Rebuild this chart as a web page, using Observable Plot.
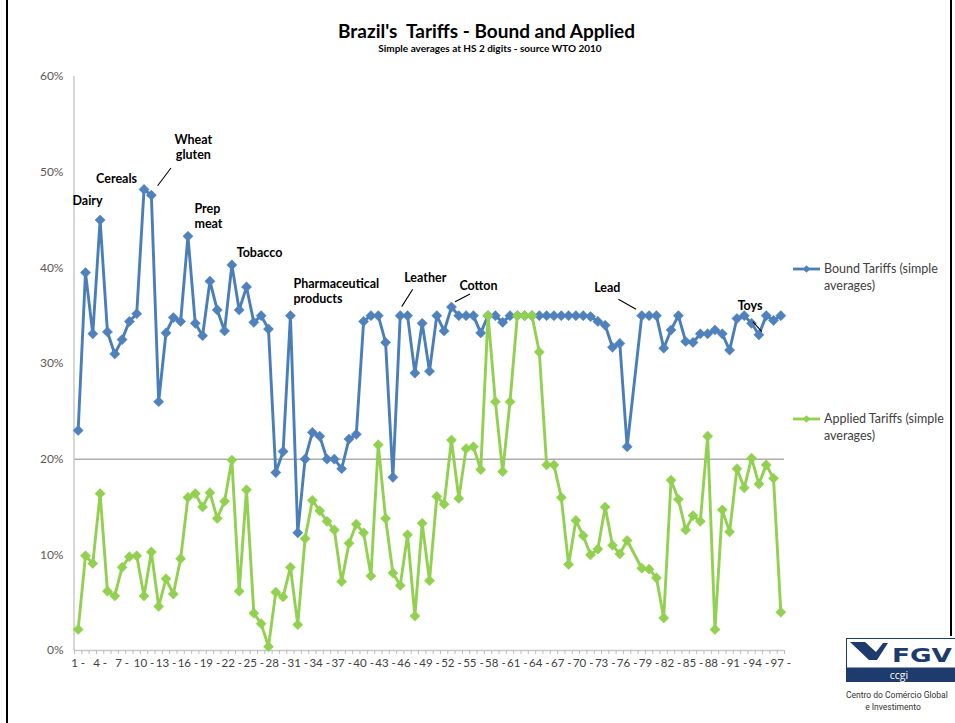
<!DOCTYPE html>
<html>
<head>
<meta charset="utf-8">
<script src="https://cdn.jsdelivr.net/npm/d3@7"></script>
<script src="https://cdn.jsdelivr.net/npm/@observablehq/plot@0.6"></script>
<style>
  body { margin: 0; background: #fff; }
  #page { position: relative; width: 955px; height: 723px; overflow: hidden; background: #fff; font-family: Lato, "Open Sans", sans-serif; }
  #chart { position: absolute; left: 0; top: 0; }
  .title { position: absolute; left: 0; width: 973px; text-align: center; font-weight: bold; color: #000; white-space: nowrap; }
  #title { top: 19px; font-size: 19px; line-height: 23px; }
  #subtitle { top: 42px; font-size: 10px; line-height: 12px; width: 980px; }
  .legend { position: absolute; left: 792px; font-size: 12.5px; line-height: 17px; color: #404040; }
  .legend svg { position: absolute; left: 0; top: 1px; }
  .legend span { position: absolute; left: 32px; top: 0; width: 130px; }
  .border { position: absolute; background: #000; }
  #logo { position: absolute; left: 0; top: 0; }
</style>
</head>
<body>
<div id="page">
  <div class="border" style="left:6px;top:0;width:2px;height:723px"></div>
  <div class="border" style="left:950px;top:0;width:2px;height:636px"></div>
  <div id="chart"></div>
  <div class="title" id="title">Brazil's&nbsp;&nbsp;Tariffs - Bound and Applied</div>
  <div class="title" id="subtitle">Simple averages at HS 2 digits - source WTO 2010</div>
  <div id="legend"></div>
  <svg id="logo" width="955" height="723" style="pointer-events:none"></svg>
</div>
<script>
// HS 2-digit chapters (chapter 77 is reserved and has no tariff lines)
const chapters = d3.range(1, 98);

// Bound tariffs, simple averages (%) per chapter 1..97
const boundTariffs = [
  23.0, 39.5, 33.1, 45.0, 33.3, 31.0, 32.5, 34.4, 35.2, 48.2,
  47.6, 26.0, 33.2, 34.8, 34.4, 43.3, 34.2, 32.9, 38.6, 35.6,
  33.4, 40.3, 35.6, 38.0, 34.3, 35.0, 33.6, 18.6, 20.8, 35.0,
  12.3, 20.0, 22.8, 22.4, 20.0, 20.0, 19.0, 22.1, 22.6, 34.4,
  35.0, 35.0, 32.2, 18.1, 35.0, 35.0, 29.0, 34.2, 29.2, 35.0,
  33.4, 35.9, 35.0, 35.0, 35.0, 33.2, 35.0, 35.0, 34.3, 35.0,
  35.0, 35.0, 35.0, 35.0, 35.0, 35.0, 35.0, 35.0, 35.0, 35.0,
  34.9, 34.4, 34.0, 31.7, 32.1, 21.3, null, 35.0, 35.0, 35.0,
  31.6, 33.5, 35.0, 32.3, 32.2, 33.1, 33.1, 33.5, 33.1, 31.4,
  34.7, 35.0, 34.2, 33.0, 35.0, 34.5, 35.0
];

// Applied tariffs, simple averages (%) per chapter 1..97
const appliedTariffs = [
   2.2,  9.9,  9.1, 16.4,  6.2,  5.7,  8.7,  9.8,  9.9,  5.7,
  10.3,  4.6,  7.5,  5.9,  9.6, 16.0, 16.4, 15.0, 16.5, 13.8,
  15.6, 19.9,  6.2, 16.8,  3.9,  2.8,  0.4,  6.1,  5.6,  8.7,
   2.7, 11.7, 15.7, 14.6, 13.5, 12.6,  7.2, 11.2, 13.2, 12.3,
   7.8, 21.5, 13.8,  8.1,  6.8, 12.1,  3.6, 13.3,  7.3, 16.1,
  15.3, 22.0, 15.9, 21.1, 21.3, 18.9, 35.0, 26.0, 18.7, 26.0,
  35.0, 35.0, 35.0, 31.2, 19.4, 19.4, 16.0,  9.0, 13.6, 12.0,
  10.0, 10.6, 15.0, 11.0, 10.1, 11.5, null,  8.6,  8.5,  7.6,
   3.4, 17.8, 15.8, 12.6, 14.1, 13.5, 22.4,  2.2, 14.7, 12.4,
  19.0, 17.0, 20.1, 17.4, 19.4, 18.0,  4.0
];

const seriesNames = ["Bound Tariffs (simple averages)", "Applied Tariffs (simple averages)"];
const xTickChapters = d3.range(1, 98, 3);
const yTicks = [0, 10, 20, 30, 40, 50, 60];
const referenceLevel = [20];

// Labelled chapters on the bound series
const annotationChapters = [4, 10, 11, 16, 24, 30, 45, 52, 78, 94];
const annotationLabels = ["Dairy", "Cereals", "Wheat\ngluten", "Prep\nmeat", "Tobacco",
  "Pharmaceutical\nproducts", "Leather", "Cotton", "Lead", "Toys"];

const BLUE = "#4A7EBB", BLUE_FILL = "#4F81BD", GREEN = "#92D050";

const bound = chapters.map((c, i) => ({chapter: c, value: boundTariffs[i]})).filter(d => d.value != null);
const applied = chapters.map((c, i) => ({chapter: c, value: appliedTariffs[i]})).filter(d => d.value != null);
const boundAt = new Map(bound.map(d => [d.chapter, d.value]));

// Label placement relative to the labelled point (pixels)
const labelOffsets = {
  4:  {dx: -12.6, dy: -19.5, anchor: "middle"},
  10: {dx: -27.5, dy: -10.9, anchor: "middle"},
  11: {dx: 42,    dy: -48.6, anchor: "middle"},
  16: {dx: 6.5,   dy: -20.8, anchor: "start"},
  24: {dx: 13,    dy: -34.8, anchor: "middle"},
  30: {dx: 3,     dy: -25,   anchor: "start"},
  45: {dx: 25,    dy: -38.5, anchor: "middle"},
  52: {dx: 27,    dy: -22.3, anchor: "middle"},
  78: {dx: -34.5, dy: -28.5, anchor: "middle"},
  94: {dx: -8.8,  dy: -29.3, anchor: "middle"}
};
// Leader lines from the point towards its label: [start dx, start dy, end dx, end dy]
const leaderOffsets = {
  11: [6.8, -8.9, 20.1, -26.6],
  45: [2, -8.5, 13, -25.9],
  52: [4.1, -4.9, 19.1, -12.6],
  78: [-5.2, -5.9, -22.9, -15.9],
  94: [3.4, -2.6, -5.6, -12.6]
};

const W = 955, H = 723, ML = 74, MR = 171, MT = 76, MB = 73;
const step = (W - ML - MR) / chapters.length;

const annotationMarks = annotationChapters.map((c, i) => {
  const o = labelOffsets[c];
  return Plot.text([{chapter: c, value: boundAt.get(c), label: annotationLabels[i]}], {
    x: "chapter", y: "value", text: "label", dx: o.dx, dy: o.dy,
    textAnchor: o.anchor, lineAnchor: "middle", lineHeight: 1.2,
    fontSize: 12.5, fontWeight: "bold", fill: "#000"
  });
});

const leaders = (index, scales) => {
  const g = d3.create("svg:g").attr("stroke", "#000").attr("stroke-width", 1.1);
  for (const [c, [x1, y1, x2, y2]] of Object.entries(leaderOffsets)) {
    const px = scales.x(+c), py = scales.y(boundAt.get(+c));
    g.append("line").attr("x1", px + x1).attr("y1", py + y1).attr("x2", px + x2).attr("y2", py + y2);
  }
  return g.node();
};

const leftAxisLine = (index, scales, values, dims) => {
  return d3.create("svg:line")
    .attr("x1", dims.marginLeft).attr("x2", dims.marginLeft)
    .attr("y1", dims.marginTop).attr("y2", dims.height - dims.marginBottom)
    .attr("stroke", "#c8c8c8").attr("stroke-width", 1.5).node();
};

const chart = Plot.plot({
  width: W, height: H,
  marginLeft: ML, marginRight: MR, marginTop: MT, marginBottom: MB,
  style: {fontFamily: "Lato, 'Open Sans', sans-serif", background: "transparent", overflow: "visible"},
  x: {type: "point", domain: chapters, padding: 0.5, align: 0.5},
  y: {domain: [0, 60]},
  marks: [
    Plot.ruleY(referenceLevel, {stroke: "#858585", strokeWidth: 1}),
    leftAxisLine,
    Plot.ruleY([0], {stroke: "#c8c8c8", strokeWidth: 1.5}),
    // small tick marks between categories
    Plot.axisX({ticks: chapters, tickSize: 4, dx: -step / 2, tickFormat: () => "", stroke: "#bdbdbd", label: null}),
    Plot.axisX({ticks: [chapters[chapters.length - 1]], tickSize: 4, dx: step / 2, tickFormat: () => "", stroke: "#bdbdbd", label: null}),
    Plot.axisX({ticks: xTickChapters, tickSize: 0, tickPadding: 8, tickFormat: d => `${d} -`,
      fill: "#404040", fontSize: 11.5, label: null}),
    Plot.axisY({ticks: yTicks, tickSize: 0, tickPadding: 11, tickFormat: d => `${d}%`,
      fill: "#595959", fontSize: 12, label: null}),
    Plot.line(bound, {x: "chapter", y: "value", stroke: BLUE, strokeWidth: 2.9, strokeLinejoin: "round"}),
    Plot.dot(bound, {x: "chapter", y: "value", symbol: "diamond2", r: 4.6, fill: BLUE_FILL, stroke: BLUE_FILL, strokeWidth: 0.5}),
    Plot.line(applied, {x: "chapter", y: "value", stroke: GREEN, strokeWidth: 2.9, strokeLinejoin: "round"}),
    Plot.dot(applied, {x: "chapter", y: "value", symbol: "diamond2", r: 4.6, fill: GREEN, stroke: GREEN, strokeWidth: 0.5}),
    leaders,
    ...annotationMarks
  ]
});
document.getElementById("chart").appendChild(chart);

// Legend: line-and-marker swatch with series name
const legend = d3.select("#legend");
[[seriesNames[0], BLUE, BLUE_FILL, 259.5], [seriesNames[1], GREEN, GREEN, 409.5]].forEach(([name, stroke, fill, top]) => {
  const item = legend.append("div").attr("class", "legend").style("top", `${top}px`);
  const sw = item.append("svg").attr("width", 30).attr("height", 16);
  sw.append("line").attr("x1", 1).attr("x2", 28).attr("y1", 8).attr("y2", 8).attr("stroke", stroke).attr("stroke-width", 2.8);
  sw.append("path").attr("d", d3.symbol(d3.symbolDiamond2, Math.PI * 3.4 * 3.4)()).attr("transform", "translate(14.5,8)").attr("fill", fill);
  item.append("span").text(name);
});

// FGV / CCGI logo
const logo = d3.select("#logo");
const NAVY = "#1d3b6c";
logo.append("rect").attr("x", 846.5).attr("y", 638.5).attr("width", 115).attr("height", 43).attr("fill", "#fff").attr("stroke", NAVY).attr("stroke-width", 1);
logo.append("polygon").attr("points", "850,642 865,642 876,652 883,643 888,643 877,660 869,660").attr("fill", NAVY);
logo.append("text").attr("x", 892).attr("y", 662).attr("fill", NAVY).attr("font-family", "'DejaVu Sans', sans-serif")
  .attr("font-weight", "bold").attr("font-size", 20).attr("textLength", 60).attr("lengthAdjust", "spacingAndGlyphs").text("FGV");
logo.append("rect").attr("x", 846.5).attr("y", 667.5).attr("width", 115).attr("height", 14).attr("fill", NAVY);
logo.append("text").attr("x", 899).attr("y", 678.5).attr("fill", "#fff").attr("text-anchor", "middle")
  .attr("font-family", "'Open Sans', sans-serif").attr("font-size", 10.5).text("ccgi");
logo.append("text").attr("x", 846).attr("y", 698).attr("fill", "#333").attr("font-family", "Roboto, sans-serif")
  .attr("font-size", 8.5).text("Centro do Comércio Global");
logo.append("text").attr("x", 893).attr("y", 710).attr("fill", "#333").attr("text-anchor", "middle").attr("font-family", "Roboto, sans-serif")
  .attr("font-size", 8.5).text("e Investimento");
</script>
</body>
</html>
